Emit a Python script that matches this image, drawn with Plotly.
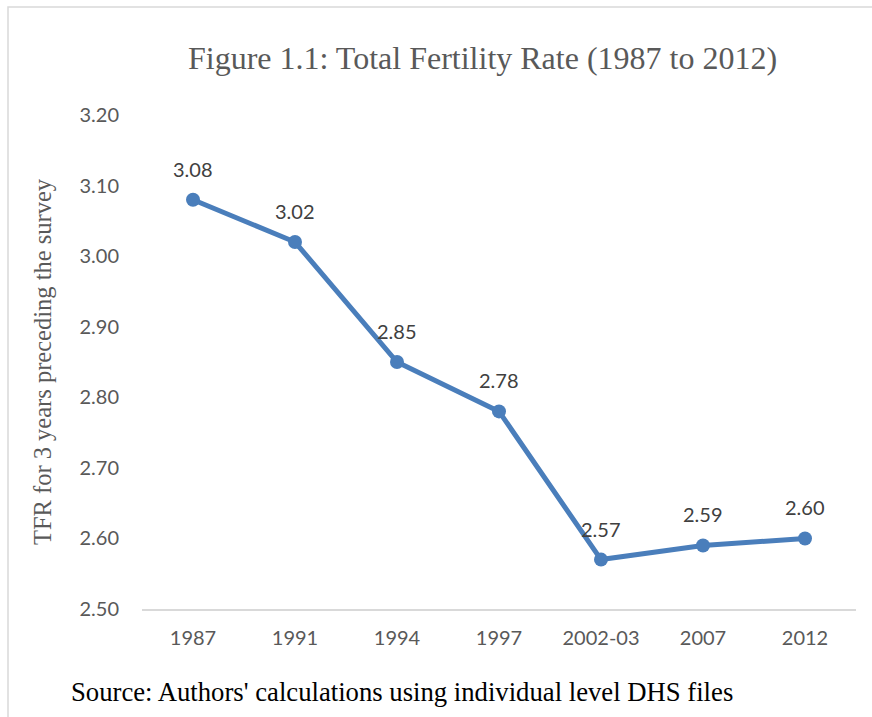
import plotly.graph_objects as go

# Survey rounds and total fertility rate (TFR) values
survey_years = ["1987", "1991", "1994", "1997", "2002-03", "2007", "2012"]
tfr_values = [3.08, 3.02, 2.85, 2.78, 2.57, 2.59, 2.60]
y_ticks = [2.50, 2.60, 2.70, 2.80, 2.90, 3.00, 3.10, 3.20]

LINE_BLUE = "#4a7ebb"
TEXT_GRAY = "#595959"
SANS = "Lato, 'Open Sans', sans-serif"
SERIF = "'Liberation Serif', 'DejaVu Serif', serif"

W, H = 872, 717
L, R, T, B = 142, 16, 115, 108
plot_w = W - L - R
plot_h = H - T - B


def px_x(p):
    return (p - L) / plot_w


def px_y(p):
    return (H - B - p) / plot_h


fig = go.Figure()
fig.add_trace(go.Scatter(
    x=list(range(len(survey_years))),
    y=tfr_values,
    mode="lines+markers",
    line=dict(color=LINE_BLUE, width=5),
    marker=dict(color=LINE_BLUE, size=14),
    showlegend=False,
    hovertext=survey_years,
    hoverinfo="text+y",
))

# Value labels above each point
for i, v in enumerate(tfr_values):
    fig.add_annotation(
        x=i, y=v, text=f"{v:.2f}", showarrow=False, yshift=31,
        font=dict(family=SANS, size=20, color="#404040"),
    )

fig.add_annotation(
    xref="paper", yref="paper", x=px_x(482), y=px_y(58),
    text="Figure 1.1: Total Fertility Rate (1987 to 2012)",
    showarrow=False, xanchor="center", yanchor="middle",
    font=dict(family=SERIF, size=32, color=TEXT_GRAY),
)
fig.add_annotation(
    xref="paper", yref="paper", x=px_x(69), y=px_y(692),
    text="Source: Authors' calculations using individual level DHS files",
    showarrow=False, xanchor="left", yanchor="middle",
    font=dict(family=SERIF, size=26.7, color="#000000"),
)

# Chart frame
fig.add_shape(
    type="rect", xref="paper", yref="paper",
    x0=px_x(8), x1=px_x(880), y0=px_y(730), y1=px_y(7),
    line=dict(color="#d9d9d9", width=1.5), fillcolor="rgba(0,0,0,0)",
    layer="below",
)

fig.update_layout(
    width=W, height=H,
    margin=dict(l=L, r=R, t=T, b=B),
    paper_bgcolor="white",
    plot_bgcolor="white",
    xaxis=dict(
        range=[-0.5, 6.5],
        tickvals=list(range(len(survey_years))),
        ticktext=survey_years,
        showgrid=False,
        zeroline=False,
        showline=True, linecolor="#d9d9d9", linewidth=1.5,
        ticks="",
        tickfont=dict(family=SANS, size=20, color=TEXT_GRAY),
        ticklabelstandoff=10,
    ),
    yaxis=dict(
        range=[2.5, 3.2],
        tickvals=y_ticks,
        tickformat=".2f",
        showgrid=False,
        zeroline=False,
        showline=False,
        ticks="",
        tickfont=dict(family=SANS, size=20, color=TEXT_GRAY),
        ticklabelstandoff=22,
        title=dict(
            text="TFR for 3 years preceding the survey",
            font=dict(family=SERIF, size=24.5, color=TEXT_GRAY),
            standoff=20,
        ),
    ),
)

fig.write_html("out.html")
